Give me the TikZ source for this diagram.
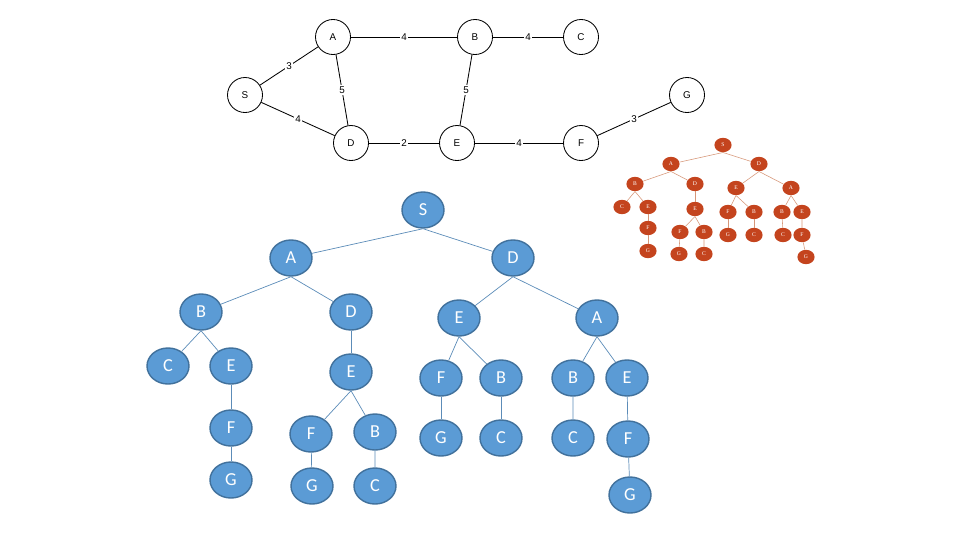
\documentclass[tikz,border=0pt]{standalone}
\usepackage{fontspec}
\setmainfont{Liberation Sans}
\newfontfamily\bluefont{Carlito}
\newfontfamily\redfont{Liberation Serif}
\usetikzlibrary{shapes.geometric}
\definecolor{blueFill}{RGB}{91,155,213}
\definecolor{blueLine}{RGB}{65,113,156}
\definecolor{blueEdge}{RGB}{92,140,184}
\definecolor{redFill}{RGB}{196,68,30}
\definecolor{redEdge}{RGB}{214,150,120}
\begin{document}
\begin{tikzpicture}[x=0.025cm,y=-0.025cm,
  gnode/.style={circle,draw,line width=0.6pt,minimum size=0.875cm,inner sep=0pt,font=\fontsize{7}{8}\selectfont},
  wlabel/.style={fill=white,inner sep=1pt,font=\fontsize{7}{8}\selectfont},
  bnode/.style={ellipse,draw=blueLine,line width=1pt,fill=blueFill,text=white,minimum width=1.05cm,minimum height=0.9cm,inner sep=0pt,font=\bluefont\fontsize{13}{14}\selectfont},
  bedge/.style={draw=blueEdge,line width=0.5pt},
  rnode/.style={ellipse,fill=redFill,text=white,minimum width=0.43cm,minimum height=0.36cm,inner sep=0pt,font=\redfont\fontsize{4}{5}\selectfont},
  redge/.style={draw=redEdge,line width=0.4pt}]
 \useasboundingbox (0,0) rectangle (960,540);
 % search graph
 \node[gnode] (S) at (245,95) {S};
 \node[gnode] (A) at (333,37) {A};
 \node[gnode] (B) at (475,37) {B};
 \node[gnode] (C) at (581,37) {C};
 \node[gnode] (D) at (351,143) {D};
 \node[gnode] (E) at (457,143) {E};
 \node[gnode] (F) at (581,143) {F};
 \node[gnode] (G) at (687,95) {G};
 \draw[line width=0.6pt] (S) -- node[wlabel] {3} (A);
 \draw[line width=0.6pt] (S) -- node[wlabel] {4} (D);
 \draw[line width=0.6pt] (A) -- node[wlabel] {4} (B);
 \draw[line width=0.6pt] (A) -- node[wlabel] {5} (D);
 \draw[line width=0.6pt] (B) -- node[wlabel] {4} (C);
 \draw[line width=0.6pt] (B) -- node[wlabel] {5} (E);
 \draw[line width=0.6pt] (D) -- node[wlabel] {2} (E);
 \draw[line width=0.6pt] (E) -- node[wlabel] {4} (F);
 \draw[line width=0.6pt] (F) -- node[wlabel] {3} (G);

 % large search tree
 \node[bnode] (bS) at (423,210) {S};
 \node[bnode] (bA) at (291,258) {A};
 \node[bnode] (bD) at (513,258) {D};
 \node[bnode] (bAB) at (201,312) {B};
 \node[bnode] (bAD) at (351,312) {D};
 \node[bnode] (bDE) at (459,318) {E};
 \node[bnode] (bDA) at (597,318) {A};
 \node[bnode] (bABC) at (168,366) {C};
 \node[bnode] (bABE) at (231,366) {E};
 \node[bnode] (bADE) at (351,372) {E};
 \node[bnode] (bDEF) at (441,378) {F};
 \node[bnode] (bDEB) at (501,378) {B};
 \node[bnode] (bDAB) at (573,378) {B};
 \node[bnode] (bDAE) at (627,378) {E};
 \node[bnode] (bABEF) at (231,428) {F};
 \node[bnode] (bADEF) at (311,434) {F};
 \node[bnode] (bADEB) at (375,432) {B};
 \node[bnode] (bDEFG) at (441,438) {G};
 \node[bnode] (bDEBC) at (501,438) {C};
 \node[bnode] (bDABC) at (573,438) {C};
 \node[bnode] (bDAEF) at (628,439) {F};
 \node[bnode] (bABEFG) at (231,480) {G};
 \node[bnode] (bADEFG) at (312,486) {G};
 \node[bnode] (bADEBC) at (375,486) {C};
 \node[bnode] (bDAEFG) at (630,495) {G};
 \draw[bedge] (bS.south) -- (bA) (bS.south) -- (bD);
 \draw[bedge] (bA.south) -- (bAB) (bA.south) -- (bAD);
 \draw[bedge] (bD.south) -- (bDE) (bD.south) -- (bDA);
 \draw[bedge] (bAB.south) -- (bABC) (bAB.south) -- (bABE);
 \draw[bedge] (bAD) -- (bADE);
 \draw[bedge] (bDE.south) -- (bDEF) (bDE.south) -- (bDEB);
 \draw[bedge] (bDA.south) -- (bDAB) (bDA.south) -- (bDAE);
 \draw[bedge] (bABE) -- (bABEF) (bABEF) -- (bABEFG);
 \draw[bedge] (bADE.south) -- (bADEF) (bADE.south) -- (bADEB);
 \draw[bedge] (bADEF) -- (bADEFG) (bADEB) -- (bADEBC);
 \draw[bedge] (bDEF) -- (bDEFG) (bDEB) -- (bDEBC);
 \draw[bedge] (bDAB) -- (bDABC) (bDAE) -- (bDAEF) (bDAEF) -- (bDAEFG);

 % small search tree
 \node[rnode] (rS) at (723,145) {S};
 \node[rnode] (rA) at (671,164) {A};
 \node[rnode] (rD) at (759,164) {D};
 \node[rnode] (rAB) at (635,184) {B};
 \node[rnode] (rAD) at (695,184) {D};
 \node[rnode] (rDE) at (736,188) {E};
 \node[rnode] (rDA) at (791,188) {A};
 \node[rnode] (rABC) at (622,207) {C};
 \node[rnode] (rABE) at (648,207) {E};
 \node[rnode] (rADE) at (695,209) {E};
 \node[rnode] (rDEF) at (728,212) {F};
 \node[rnode] (rDEB) at (754,212) {B};
 \node[rnode] (rDAB) at (782,212) {B};
 \node[rnode] (rDAE) at (802,212) {E};
 \node[rnode] (rABEF) at (648,228) {F};
 \node[rnode] (rADEF) at (680,232) {F};
 \node[rnode] (rADEB) at (704,232) {B};
 \node[rnode] (rDEFG) at (728,235) {G};
 \node[rnode] (rDEBC) at (754,235) {C};
 \node[rnode] (rDABC) at (783,235) {C};
 \node[rnode] (rDAEF) at (802,235) {F};
 \node[rnode] (rABEFG) at (648,251) {G};
 \node[rnode] (rADEFG) at (679,254) {G};
 \node[rnode] (rADEBC) at (704,254) {C};
 \node[rnode] (rDAEFG) at (806,257) {G};
 \draw[redge] (rS.south) -- (rA) (rS.south) -- (rD);
 \draw[redge] (rA.south) -- (rAB) (rA.south) -- (rAD);
 \draw[redge] (rD.south) -- (rDE) (rD.south) -- (rDA);
 \draw[redge] (rAB.south) -- (rABC) (rAB.south) -- (rABE);
 \draw[redge] (rAD) -- (rADE);
 \draw[redge] (rDE.south) -- (rDEF) (rDE.south) -- (rDEB);
 \draw[redge] (rDA.south) -- (rDAB) (rDA.south) -- (rDAE);
 \draw[redge] (rABE) -- (rABEF) (rABEF) -- (rABEFG);
 \draw[redge] (rADE.south) -- (rADEF) (rADE.south) -- (rADEB);
 \draw[redge] (rADEF) -- (rADEFG) (rADEB) -- (rADEBC);
 \draw[redge] (rDEF) -- (rDEFG) (rDEB) -- (rDEBC);
 \draw[redge] (rDAB) -- (rDABC) (rDAE) -- (rDAEF) (rDAEF) -- (rDAEFG);
\end{tikzpicture}
\end{document}
